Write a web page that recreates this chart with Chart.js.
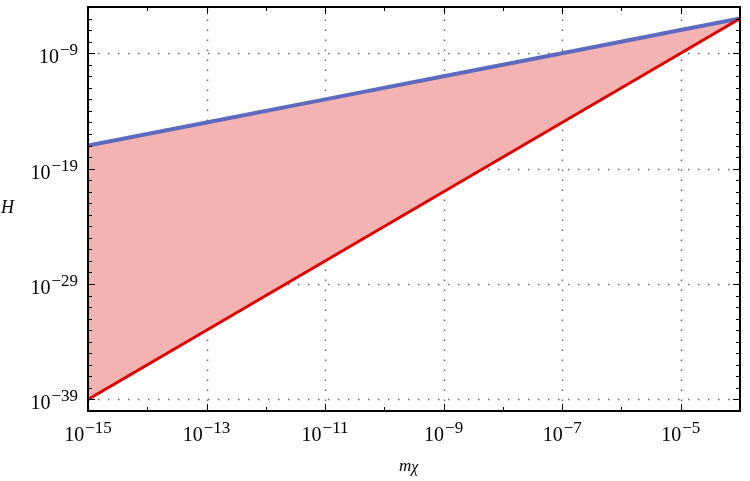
<!DOCTYPE html>
<html lang="en">
<head>
    <meta charset="UTF-8">
    <title>H vs m_chi</title>
    <script src="https://cdn.jsdelivr.net/npm/chart.js@4/dist/chart.umd.min.js"></script>
    <style>
        body { margin: 0; background: #fff; }
        .wrap { width: 750px; height: 481px; position: relative; }
    </style>
</head>
<body>
    <div class="wrap"><canvas id="chart"></canvas></div>

    <script>
        // values (log-log, straight lines)
        const masses = [1e-15, 1e-13, 1e-11, 1e-9, 1e-7, 1e-5, 1e-4];
        const upperH = [1e-17, 1e-15, 1e-13, 1e-11, 1e-9, 1e-7, 1e-6];
        const lowerH = [1e-39, 1e-33, 1e-27, 1e-21, 1e-15, 1e-9, 1e-6];

        const xLabelExps = [-15, -13, -11, -9, -7, -5];
        const yLabelExps = [-39, -29, -19, -9];
        const xRange = [-15, -4];
        const yRange = [-40, -5];

        const serif = "'Liberation Serif', 'DejaVu Serif', serif";

        function drawPow(ctx, exp, x, y, align) {
            const base = '10', sup = '\u2212' + Math.abs(exp);
            ctx.font = '20px ' + serif;
            const wb = ctx.measureText(base).width;
            ctx.font = '17px ' + serif;
            const ws = ctx.measureText(sup).width;
            const total = wb + ws + 1;
            let x0 = align === 'right' ? x - total : x - total / 2;
            ctx.textAlign = 'left';
            ctx.textBaseline = 'alphabetic';
            ctx.font = '20px ' + serif;
            ctx.fillText(base, x0, y);
            ctx.font = '17px ' + serif;
            ctx.fillText(sup, x0 + wb + 1, y - 8);
        }

        const framePlugin = {
            id: 'frame',
            beforeDatasetsDraw(chart) {
                const { ctx, chartArea: a, scales } = chart;
                ctx.save();
                ctx.strokeStyle = '#666';
                ctx.lineWidth = 1.5;
                ctx.setLineDash([1.5, 8.5]);
                xLabelExps.forEach(e => {
                    const x = Math.round(scales.x.getPixelForValue(Math.pow(10, e))) + 0.5;
                    ctx.beginPath(); ctx.moveTo(x, a.bottom); ctx.lineTo(x, a.top); ctx.stroke();
                });
                yLabelExps.forEach(e => {
                    const y = Math.round(scales.y.getPixelForValue(Math.pow(10, e))) + 0.5;
                    ctx.beginPath(); ctx.moveTo(a.left, y); ctx.lineTo(a.right, y); ctx.stroke();
                });
                ctx.restore();
            },
            afterDraw(chart) {
                const { ctx, chartArea: a, scales } = chart;
                ctx.save();
                ctx.fillStyle = '#000';
                ctx.strokeStyle = '#000';
                // inward ticks
                ctx.lineWidth = 1;
                for (let e = xRange[0]; e <= xRange[1]; e++) {
                    const x = Math.round(scales.x.getPixelForValue(Math.pow(10, e))) + 0.5;
                    const len = xLabelExps.includes(e) ? 7 : 4;
                    ctx.beginPath();
                    ctx.moveTo(x, a.bottom); ctx.lineTo(x, a.bottom - len);
                    ctx.moveTo(x, a.top); ctx.lineTo(x, a.top + len);
                    ctx.stroke();
                }
                for (let e = yRange[0]; e <= yRange[1]; e++) {
                    const y = Math.round(scales.y.getPixelForValue(Math.pow(10, e))) + 0.5;
                    const len = yLabelExps.includes(e) ? 7 : 4;
                    ctx.beginPath();
                    ctx.moveTo(a.left, y); ctx.lineTo(a.left + len, y);
                    ctx.moveTo(a.right, y); ctx.lineTo(a.right - len, y);
                    ctx.stroke();
                }
                // frame
                ctx.lineWidth = 2;
                ctx.strokeRect(a.left, a.top, a.right - a.left, a.bottom - a.top);
                // tick labels
                xLabelExps.forEach(e => {
                    drawPow(ctx, e, scales.x.getPixelForValue(Math.pow(10, e)), a.bottom + 30, 'center');
                });
                yLabelExps.forEach(e => {
                    drawPow(ctx, e, a.left - 10, scales.y.getPixelForValue(Math.pow(10, e)) + 10, 'right');
                });
                // axis titles
                ctx.textAlign = 'left';
                ctx.font = 'italic 18px ' + serif;
                ctx.fillText('H', 1, 213);
                const mx = 399;
                ctx.font = 'italic 17px ' + serif;
                ctx.fillText('m', mx, 471);
                const wm = ctx.measureText('m').width;
                ctx.font = 'italic 16px ' + serif;
                ctx.fillText('\u03C7', mx + wm, 472);
                ctx.restore();
            }
        };

        new Chart(document.getElementById('chart'), {
            type: 'line',
            data: {
                datasets: [
                    {
                        label: 'lower',
                        data: masses.map((m, i) => ({ x: m, y: lowerH[i] })),
                        borderColor: '#dd0000',
                        borderWidth: 3,
                        pointRadius: 0,
                        fill: false
                    },
                    {
                        label: 'upper',
                        data: masses.map((m, i) => ({ x: m, y: upperH[i] })),
                        borderColor: '#5e6abf',
                        borderWidth: 4,
                        pointRadius: 0,
                        backgroundColor: '#f4b3b3',
                        fill: 0
                    }
                ]
            },
            options: {
                responsive: true,
                maintainAspectRatio: false,
                animation: false,
                layout: { padding: { left: 88, right: 10, top: 7, bottom: 70 } },
                plugins: {
                    legend: { display: false },
                    tooltip: { enabled: false }
                },
                scales: {
                    x: {
                        type: 'logarithmic',
                        display: false,
                        min: Math.pow(10, xRange[0]),
                        max: Math.pow(10, xRange[1])
                    },
                    y: {
                        type: 'logarithmic',
                        display: false,
                        min: Math.pow(10, yRange[0]),
                        max: Math.pow(10, yRange[1])
                    }
                }
            },
            plugins: [framePlugin]
        });
    </script>
</body>
</html>
